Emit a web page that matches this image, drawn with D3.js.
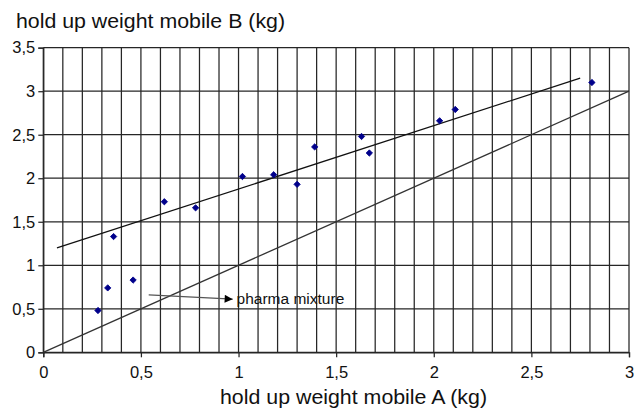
<!DOCTYPE html>
<html>
<head>
<meta charset="utf-8">
<script src="https://cdn.jsdelivr.net/npm/d3@7"></script>
<style>
  html, body { margin: 0; padding: 0; background: #fff; }
  svg { display: block; font-family: "Liberation Sans", Arial, sans-serif; }
</style>
</head>
<body>
<svg id="chart" width="634" height="410"></svg>
<script>
// ---- data ----
const pointsA = [0.28, 0.33, 0.36, 0.46, 0.62, 0.78, 1.02, 1.18, 1.30, 1.39, 1.63, 1.67, 2.03, 2.11, 2.81];
const pointsB = [0.48, 0.74, 1.33, 0.83, 1.73, 1.66, 2.02, 2.04, 1.93, 2.36, 2.48, 2.29, 2.66, 2.79, 3.10];
const trendA = [0.07, 2.75];
const trendB = [1.20, 3.15];
const identityA = [0, 3];
const identityB = [0, 3];
const xTickValues = [0, 0.5, 1, 1.5, 2, 2.5, 3];
const xTickLabels = ["0", "0,5", "1", "1,5", "2", "2,5", "3"];
const yTickValues = [0, 0.5, 1, 1.5, 2, 2.5, 3, 3.5];
const yTickLabels = ["0", "0,5", "1", "1,5", "2", "2,5", "3", "3,5"];
const xGridValues = d3.range(0, 31).map(i => i / 10);
const arrowFrom = [0.54, 0.66];
const arrowTo = [0.97, 0.61];
const annotationText = "pharma mixture";
const annotationPos = [0.99, 0.555];
const yTitle = "hold up weight mobile B (kg)";
const xTitle = "hold up weight mobile A (kg)";

// ---- layout ----
const svg = d3.select("#chart");
const x = d3.scaleLinear().domain([0, 3]).range([43.3, 629]);
const y = d3.scaleLinear().domain([0, 3.5]).range([352.3, 47.7]);
const gridColor = "#262626";

// defs: arrowhead
svg.append("defs").append("marker")
  .attr("id", "arrowhead")
  .attr("viewBox", "0 0 10 10")
  .attr("refX", 10).attr("refY", 5)
  .attr("markerUnits", "userSpaceOnUse")
  .attr("markerWidth", 9).attr("markerHeight", 8)
  .attr("orient", "auto")
  .append("path").attr("d", "M0,0 L10,5 L0,10 Z").attr("fill", "#000");

// vertical grid (every 0.1)
svg.append("g").selectAll("line").data(xGridValues).join("line")
  .attr("x1", d => x(d)).attr("x2", d => x(d))
  .attr("y1", y(3.5)).attr("y2", y(0))
  .attr("stroke", gridColor).attr("stroke-width", 1.25);

// horizontal grid
svg.append("g").selectAll("line").data(yTickValues).join("line")
  .attr("x1", x(0)).attr("x2", x(3))
  .attr("y1", d => y(d)).attr("y2", d => y(d))
  .attr("stroke", gridColor).attr("stroke-width", 1.25);

// axes
const xAxis = d3.axisBottom(x).tickValues(xTickValues)
  .tickFormat((d, i) => xTickLabels[i]).tickSize(5).tickPadding(9);
const gx = svg.append("g").attr("transform", `translate(0,${y(0)})`).call(xAxis);
gx.select(".domain").attr("stroke", gridColor).attr("stroke-width", 1.25);
gx.selectAll(".tick line").attr("stroke", gridColor).attr("stroke-width", 1.25);
gx.selectAll("text").attr("font-size", 16.5).attr("fill", "#111")
  .attr("font-family", "Liberation Sans, Arial, sans-serif");

const yAxis = d3.axisLeft(y).tickValues(yTickValues)
  .tickFormat((d, i) => yTickLabels[i]).tickSize(5).tickPadding(3);
const gy = svg.append("g").attr("transform", `translate(${x(0)},0)`).call(yAxis);
gy.select(".domain").attr("stroke", gridColor).attr("stroke-width", 1.25);
gy.selectAll(".tick line").attr("stroke", gridColor).attr("stroke-width", 1.25);
gy.selectAll("text").attr("font-size", 16.5).attr("fill", "#111")
  .attr("font-family", "Liberation Sans, Arial, sans-serif");

// identity line
svg.append("line")
  .attr("x1", x(identityA[0])).attr("y1", y(identityB[0]))
  .attr("x2", x(identityA[1])).attr("y2", y(identityB[1]))
  .attr("stroke", "#333").attr("stroke-width", 1.3);

// trend line
svg.append("line")
  .attr("x1", x(trendA[0])).attr("y1", y(trendB[0]))
  .attr("x2", x(trendA[1])).attr("y2", y(trendB[1]))
  .attr("stroke", "#111").attr("stroke-width", 1.3);

// points
const sym = d3.symbol().type(d3.symbolSquare).size(20);
svg.append("g").selectAll("path").data(pointsA).join("path")
  .attr("d", sym)
  .attr("transform", (d, i) => `translate(${x(d)},${y(pointsB[i])}) rotate(45)`)
  .attr("fill", "#00008b").attr("stroke", "#00008b").attr("stroke-width", 0.8)
  .attr("stroke-linejoin", "round");

// annotation arrow
svg.append("line")
  .attr("x1", x(arrowFrom[0])).attr("y1", y(arrowFrom[1]))
  .attr("x2", x(arrowTo[0])).attr("y2", y(arrowTo[1]))
  .attr("stroke", "#555").attr("stroke-width", 1.2)
  .attr("marker-end", "url(#arrowhead)");

svg.append("text")
  .attr("x", x(annotationPos[0])).attr("y", y(annotationPos[1]))
  .attr("font-size", 15.5).attr("fill", "#111")
  .text(annotationText);

// titles
svg.append("text")
  .attr("x", 16).attr("y", 28)
  .attr("font-size", 19.5).attr("fill", "#111")
  .attr("textLength", 269).attr("lengthAdjust", "spacingAndGlyphs")
  .text(yTitle);

svg.append("text")
  .attr("x", 220).attr("y", 404)
  .attr("font-size", 19.5).attr("fill", "#111")
  .attr("textLength", 267).attr("lengthAdjust", "spacingAndGlyphs")
  .text(xTitle);
</script>
</body>
</html>
